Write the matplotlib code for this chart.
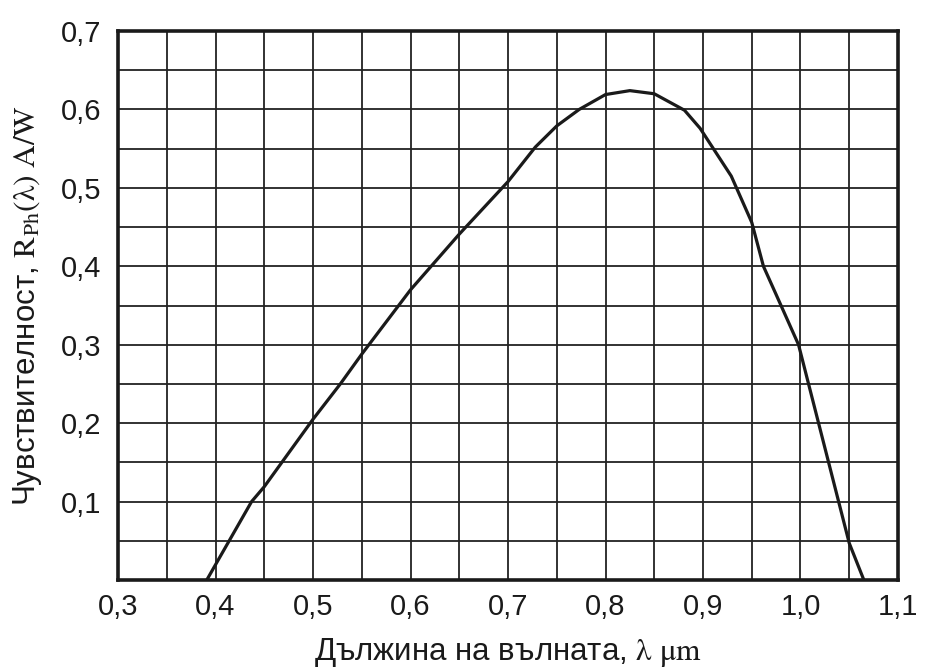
import numpy as np
import matplotlib.pyplot as plt
from matplotlib.ticker import MultipleLocator, FixedLocator

plt.rcParams['font.family'] = ['Liberation Sans', 'DejaVu Sans']
plt.rcParams['mathtext.fontset'] = 'stix'

# wavelength, um
wl = [0.391, 0.437, 0.45, 0.5, 0.528, 0.55, 0.6, 0.65, 0.7, 0.728, 0.75,
      0.773, 0.8, 0.825, 0.85, 0.881, 0.897, 0.929, 0.95, 0.962, 0.975,
      0.998, 1.05, 1.065]
# responsivity, A/W
resp = [0.0, 0.1, 0.119, 0.205, 0.25, 0.288, 0.37, 0.441, 0.508, 0.552, 0.579,
        0.6, 0.619, 0.624, 0.62, 0.599, 0.576, 0.515, 0.456, 0.40, 0.364,
        0.30, 0.047, 0.0]

x_ticks = [0.3, 0.4, 0.5, 0.6, 0.7, 0.8, 0.9, 1.0, 1.1]
y_ticks = [0.1, 0.2, 0.3, 0.4, 0.5, 0.6, 0.7]

fig = plt.figure(figsize=(9.25, 6.7), dpi=100)
ax = fig.add_axes([0.1276, 0.1343, 0.8432, 0.8194])

ax.plot(wl, resp, color='#1a1a1a', lw=2.3, solid_joinstyle='round', zorder=3)

ax.set_xlim(0.3, 1.1)
ax.set_ylim(0, 0.7)

ax.xaxis.set_major_locator(FixedLocator(x_ticks))
ax.yaxis.set_major_locator(FixedLocator(y_ticks))
ax.xaxis.set_minor_locator(MultipleLocator(0.05))
ax.yaxis.set_minor_locator(MultipleLocator(0.05))
ax.set_xticklabels([f'{v:.1f}'.replace('.', ',') for v in x_ticks])
ax.set_yticklabels([f'{v:.1f}'.replace('.', ',') for v in y_ticks])

ax.grid(which='both', color='#222222', lw=1.3)
ax.tick_params(which='both', length=0, labelsize=21, colors='#1a1a1a')
ax.tick_params(axis='x', pad=9)
ax.tick_params(axis='y', pad=12)

for s in ax.spines.values():
    s.set_linewidth(2.6)
    s.set_color('#1a1a1a')

ax.set_xlabel(r'Дължина на вълната, $\mathrm{\lambda\ \mu m}$', fontsize=22.5,
              labelpad=11, color='#1a1a1a')
ax.set_ylabel(r'Чувствителност, $\mathrm{R_{Ph}(\lambda)\ A/W}$', fontsize=22.5,
              labelpad=12, color='#1a1a1a')

fig.savefig('out.png', dpi=100)
